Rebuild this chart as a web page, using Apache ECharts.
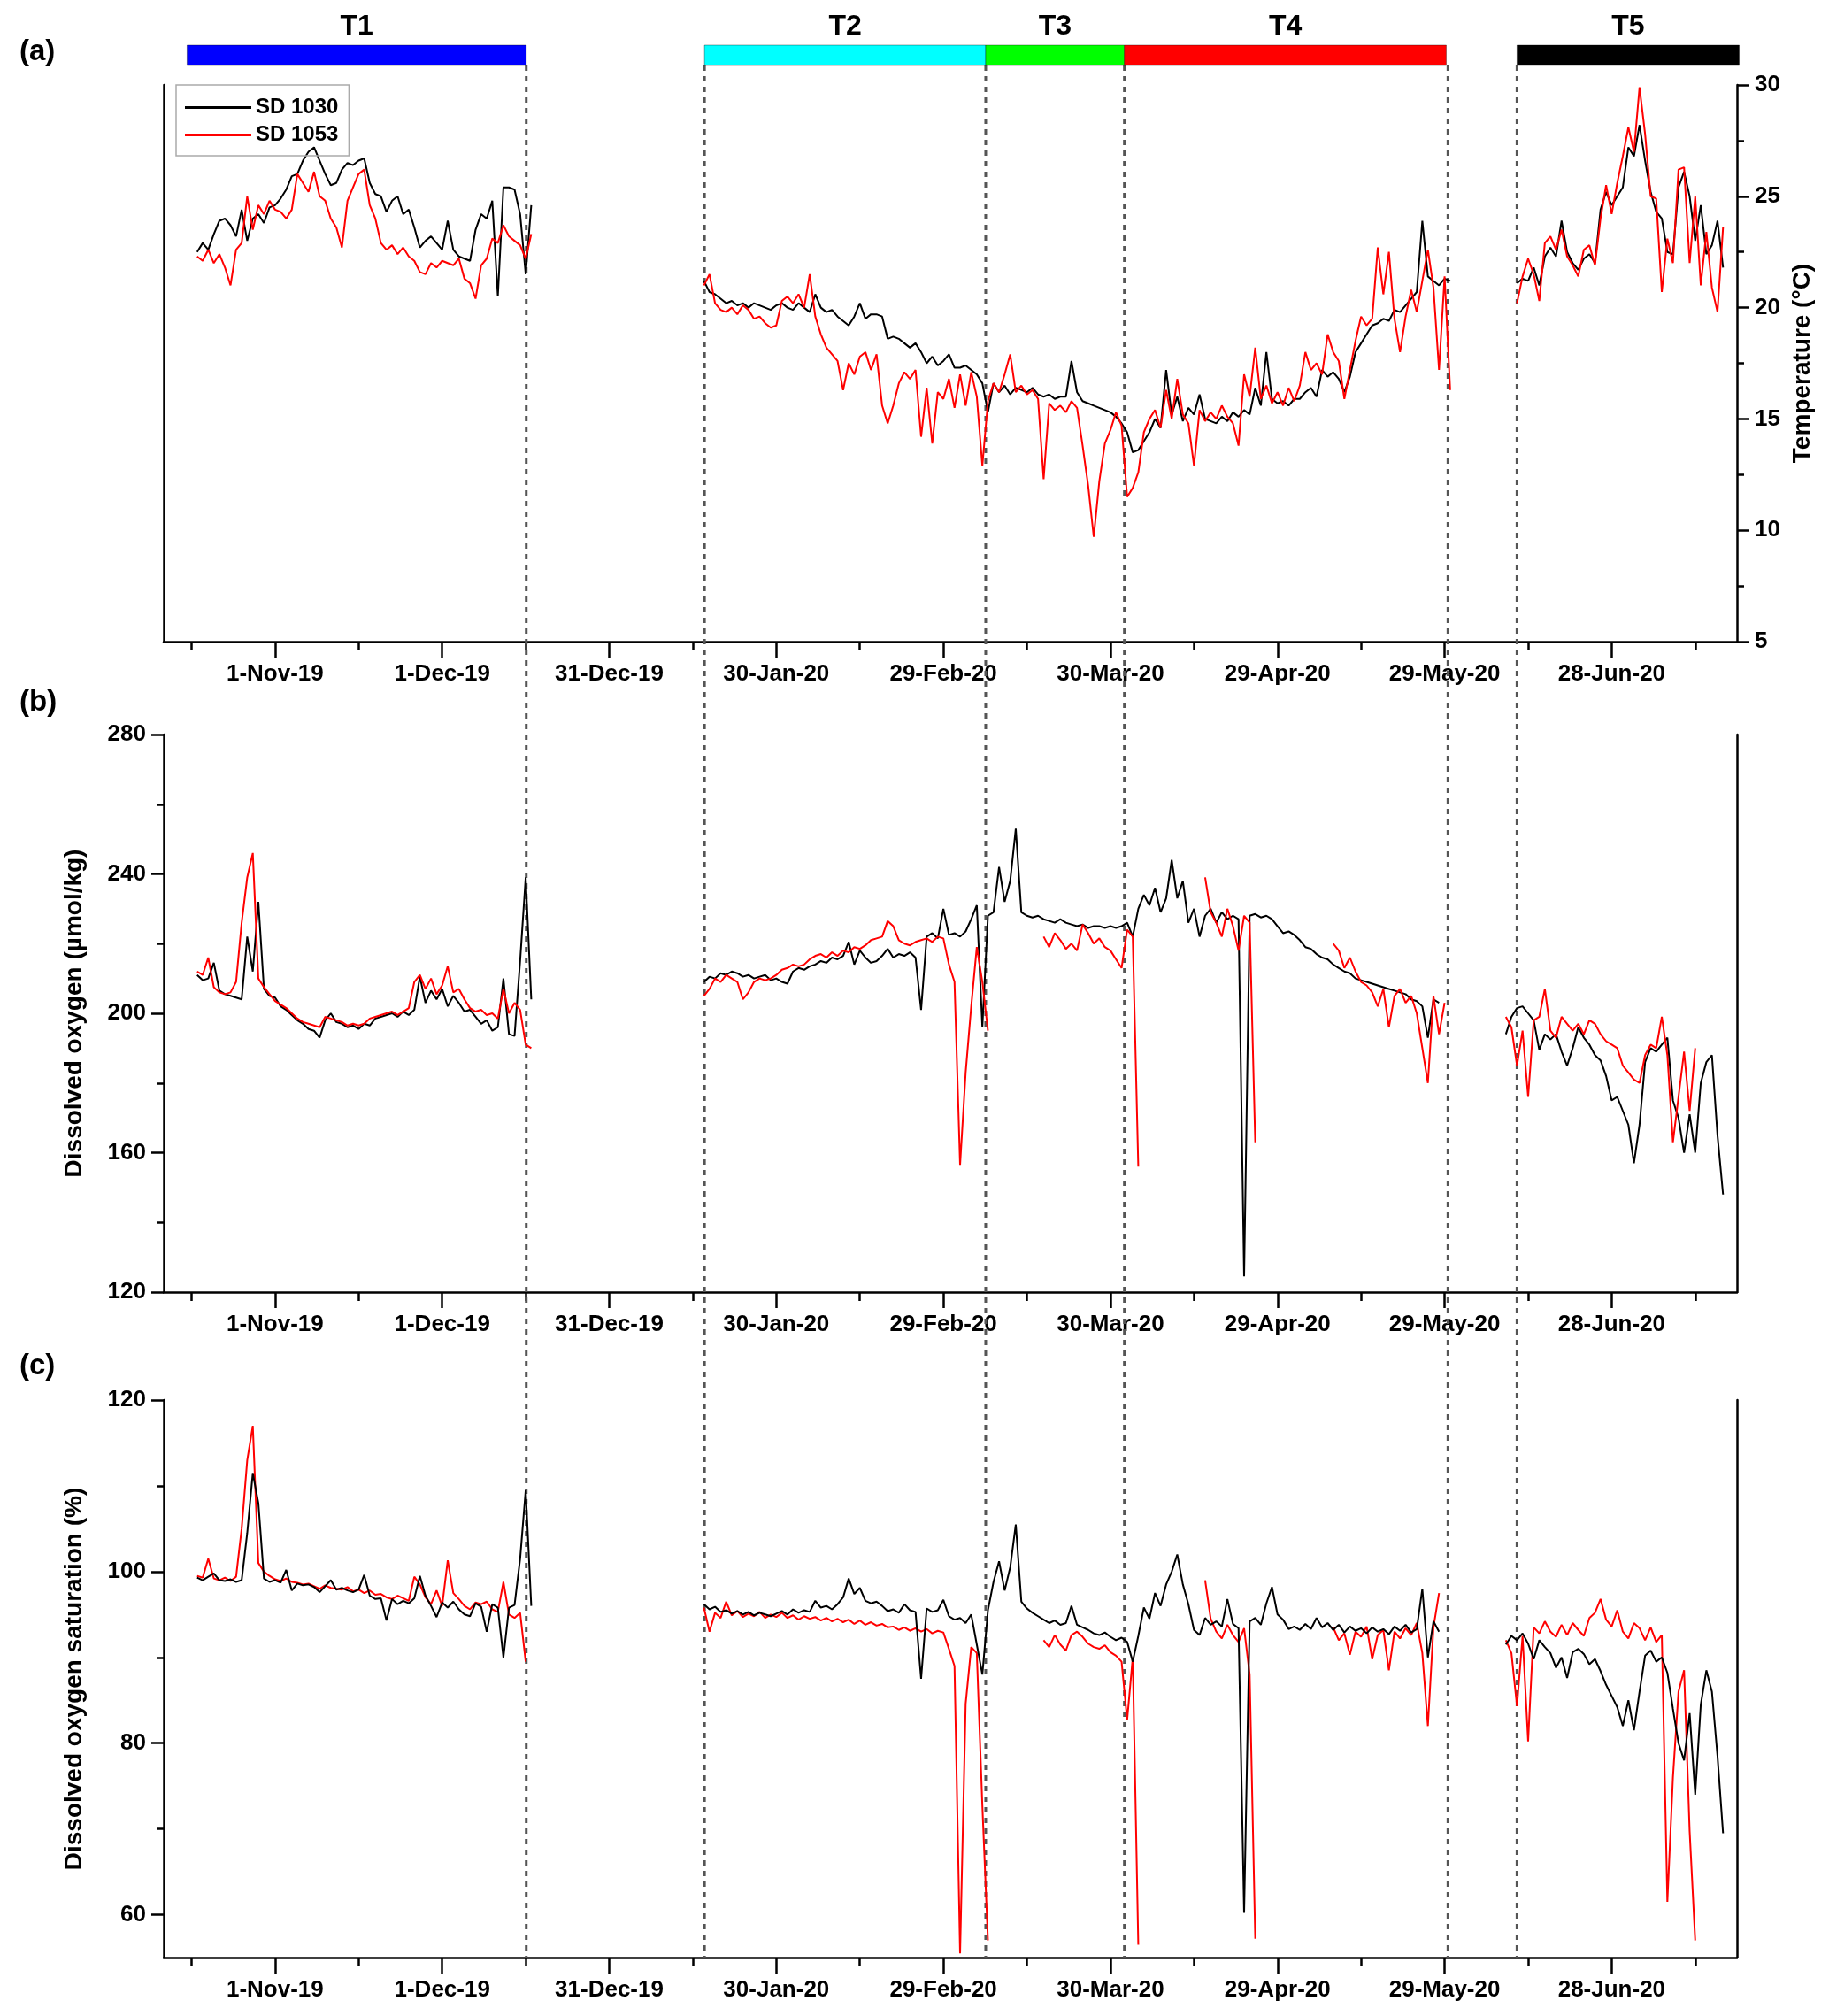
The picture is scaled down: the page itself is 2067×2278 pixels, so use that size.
<!DOCTYPE html>
<html>
<head>
<meta charset="utf-8">
<title>SD 1030 / SD 1053 time series</title>
<script src="https://cdn.jsdelivr.net/npm/echarts@6/dist/echarts.min.js"></script>
<style>
  html, body { margin: 0; padding: 0; background: #fff; }
  #main { width: 2067px; height: 2278px; }
</style>
</head>
<body>
<div id="main"></div>
<script>
// x values are day numbers, day 0 = 1-Oct-2019
var dayMin = 11, dayMax = 293.5;
var majorTickDays = [31, 61, 91, 121, 151, 181, 211, 241, 271];
var majorTickLabels = ['1-Nov-19', '1-Dec-19', '31-Dec-19', '30-Jan-20', '29-Feb-20',
                       '30-Mar-20', '29-Apr-20', '29-May-20', '28-Jun-20'];
var minorTickDays = [16, 46, 76, 106, 136, 166, 196, 226, 256, 286];

// deployment periods (bars on top) and their boundaries (dashed lines)
var periodNames = ['T1', 'T2', 'T3', 'T4', 'T5'];
var periodStart = [15.2, 108.1, 158.6, 183.5, 254.0];
var periodEnd = [76.1, 158.6, 183.5, 241.3, 293.9];
var periodColors = ['#0000ff', '#00ffff', '#00ff00', '#ff0000', '#000000'];
var boundaryDays = [76.1, 108.1, 158.6, 183.5, 241.6, 254.0];

// first day of each data segment
var tempStarts = [17, 108, 254];
var oxyStarts = [17, 108, 252];

// (a) temperature, deg C
var temp1030_s1 = [22.5,22.9,22.6,23.3,23.9,24.0,23.7,23.2,24.4,23.0,24.0,24.2,23.8,24.5,24.6,24.9,25.3,25.9,26.0,26.6,
  27.0,27.2,26.6,26.0,25.5,25.6,26.2,26.5,26.4,26.6,26.7,25.6,25.1,25.0,24.3,24.8,25.0,24.2,24.4,23.6,
  22.7,23.0,23.2,22.9,22.6,23.9,22.6,22.3,22.2,22.1,23.5,24.2,24.0,24.8,20.5,25.4,25.4,25.3,24.2,21.5,24.6];
var temp1053_s1 = [22.3,22.1,22.6,22.0,22.4,21.8,21.0,22.6,22.9,25.0,23.5,24.6,24.2,24.8,24.4,24.3,24.0,24.4,26.0,25.6,
  25.2,26.1,25.0,24.8,24.0,23.6,22.7,24.8,25.4,26.0,26.2,24.6,24.0,22.9,22.6,22.8,22.4,22.7,22.3,22.1,
  21.6,21.5,22.0,21.8,22.1,22.0,21.9,22.2,21.3,21.1,20.4,21.9,22.2,23.1,22.9,23.7,23.2,23.0,22.8,22.2,23.3];
var temp1030_s2 = [21.2,20.7,20.6,20.4,20.2,20.3,20.1,20.2,20.0,20.2,
  20.1,20.0,19.9,20.1,20.2,20.0,19.9,20.2,20.0,19.8,
  20.6,20.0,19.8,19.9,19.6,19.4,19.2,19.6,20.2,19.5,
  19.7,19.7,19.6,18.6,18.7,18.6,18.4,18.2,18.4,18.0,
  17.5,17.8,17.4,17.6,17.9,17.3,17.3,17.4,17.2,17.0,
  16.6,15.3,16.6,16.2,16.5,16.1,16.4,16.3,16.2,16.4,
  16.1,16.0,16.1,15.9,16.0,16.0,17.6,16.2,15.8,15.7,
  15.6,15.5,15.4,15.3,15.1,14.8,14.4,13.5,13.6,14.0,
  14.4,15.0,14.6,17.2,15.2,16.0,14.9,15.5,15.2,16.1,
  15.0,14.9,14.8,15.1,14.9,15.3,15.1,15.4,15.2,16.4,
  15.6,18.0,15.9,15.7,15.8,15.6,15.9,15.9,16.2,16.4,
  16.0,17.2,16.9,17.1,16.8,16.2,16.9,18.0,18.4,18.8,
  19.2,19.3,19.5,19.4,19.9,19.8,20.1,20.4,20.7,23.9,
  21.4,21.2,21.0,21.3,21.2];
var temp1053_s2 = [21.0,21.5,20.2,19.9,19.8,20.0,19.7,20.1,19.9,19.5,
  19.6,19.3,19.1,19.2,20.3,20.5,20.2,20.6,20.0,21.5,
  19.6,18.8,18.2,17.9,17.6,16.3,17.5,17.0,17.8,18.0,
  17.2,17.9,15.6,14.8,15.6,16.6,17.1,16.8,17.2,14.2,
  16.4,13.9,16.2,15.9,16.8,15.5,17.0,15.6,17.1,16.0,
  12.9,15.8,16.6,16.2,17.0,17.9,16.2,16.5,16.1,16.3,
  15.9,12.3,15.7,15.4,15.6,15.3,15.8,15.5,13.8,12.0,
  9.7,12.2,13.9,14.5,15.3,14.7,11.5,11.9,12.6,14.4,
  15.0,15.4,14.6,16.3,15.0,16.8,15.2,14.8,12.9,15.4,
  14.9,15.3,15.0,15.6,15.1,14.8,13.8,17.0,16.0,18.2,
  15.9,16.5,15.7,16.2,15.6,16.4,15.8,16.5,18.0,17.2,
  17.5,17.0,18.8,18.0,17.6,15.9,17.2,18.5,19.6,19.2,
  19.5,22.7,20.6,22.5,19.5,18.0,19.6,20.8,19.8,21.2,
  22.6,20.9,17.2,21.4,16.3];
var temp1030_s3 = [21.1,21.3,21.2,21.8,21.0,22.3,22.7,22.3,23.9,22.5,22.0,21.7,22.2,22.4,22.0,24.4,25.2,24.6,25.0,25.4,
  27.2,26.8,28.2,26.6,25.2,24.3,24.0,22.5,22.4,25.4,26.1,25.0,23.0,24.6,22.4,22.8,23.9,21.8];
var temp1053_s3 = [20.2,21.4,22.2,21.5,20.3,22.9,23.2,22.6,23.5,22.3,21.9,21.4,22.6,22.8,21.9,24.0,25.5,24.2,25.6,26.8,
  28.1,27.0,29.9,27.8,25.0,24.9,20.7,23.1,22.0,26.2,26.3,22.0,25.0,21.0,23.4,20.9,19.8,23.6];

// (b) dissolved oxygen, umol/kg
var do1030_s1 = [211.0,209.5,210.0,214.5,206.5,205.5,205.0,204.5,204.0,222.0,212.0,232.0,207.0,205.0,204.5,202.0,201.0,199.5,198.0,197.0,
  195.5,195.0,193.0,198.0,200.0,197.5,197.0,196.0,196.5,195.5,197.0,196.5,198.5,199.0,199.5,200.0,199.0,200.5,199.5,201.0,
  210.5,203.0,206.5,204.0,207.0,202.0,205.0,203.0,200.5,201.0,199.0,197.0,198.0,195.0,196.0,210.0,194.0,193.5,215.0,239.0,204.0];
var do1053_s1 = [212.0,211.0,216.0,207.5,206.0,205.5,206.0,209.0,226.0,239.0,246.0,210.0,207.5,205.5,203.5,202.5,201.5,200.0,198.5,197.5,
  197.0,196.5,196.0,199.0,198.5,198.0,197.5,196.5,197.0,196.5,197.0,198.5,199.0,199.5,200.0,200.5,199.5,200.5,201.5,209.0,
  211.0,207.0,210.0,205.5,208.0,213.5,206.0,207.0,204.0,201.5,200.5,201.0,199.5,200.0,198.5,207.0,200.0,203.0,201.0,191.0,190.0];
var do1030_s2 = [209,210.5,210,211.5,211,212,211.5,210.5,211,210,
  210.5,211,209.5,210,209,208.5,212,213,212.5,213.5,
  214,215,214.5,216,215.5,216.5,220.5,214,218,216,
  214.5,215,216.5,218.5,216,217,216.5,217.5,216,201,
  222,223,221.5,230,222.5,223,222,223.5,227,231,
  196,228,229,242,232,238,253,229,228,227.5,
  228,227,226.5,226,227,226,225.5,225,225.5,224.5,
  225,225,224.5,225,224.5,225,226,222,230,234,
  231,236,229,233,244,233,238,226,230,222,
  228,230,226,229,227,228,227,124.5,228,228.5,
  227.5,228,227,225,223,223.5,222.5,221,219,218.5,
  217,216,215.5,214,213,212,211.5,210,209.5,209,
  208.5,208,207.5,207,206.5,206,205.5,204,203.5,202,
  193,204,203];
var do1053_s2 = [205,207,210,209,211,210,209,204,206,209,
  210,209.5,210,211,212.5,213,214,213.5,214,215.5,
  216.5,217,216,217.5,216.5,218,217.5,219,218.5,219.5,
  221,221.5,222,226.5,225,221,220,219.5,220.5,221,
  221.5,220.5,222,221.5,214,209,156.5,183,202,219,
  209,195,null,null,null,null,null,null,null,null,
  null,222,219,223,221,218.5,220,218,225.5,223,
  220,221.5,219,218,215.5,213,224,222,156,null,
  null,null,null,null,null,null,null,null,null,null,
  239,229,226,222,230,225,218,228,226,163,
  null,null,null,null,null,null,null,null,null,null,
  null,null,null,220,218,213,216,212,209,208,
  206,202,207,196,205,207,203,205,200,190,
  180,205,194,203];
var do1030_s3 = [194,199,201.5,202,200,198,189.5,194,192.5,194,189,185,190,196,193,191,188,186.5,182,175,
  176,172,168,157,168,186,190,189,191,193,175,170,160,171,160,180,186,188,165,148];
var do1053_s3 = [199,196,185,195,176,198,199,207,195,193,199,197,195,197,194,198,197,194,192,191,
  190,185,183,181,180,188,191,190,199,188,163,176,189,172,190];

// (c) dissolved oxygen saturation, %
var sat1030_s1 = [99.3,99.0,99.4,99.8,99.0,98.9,99.1,98.8,99.0,104.5,111.5,108.0,99.2,98.8,99.0,98.7,100.2,97.8,98.6,98.4,
  98.5,98.2,97.6,98.3,99.0,97.9,98.1,97.8,97.6,97.9,99.6,97.2,96.8,96.9,94.3,96.8,96.2,96.6,96.3,96.9,
  99.5,97.2,96.0,94.7,96.4,95.8,96.5,95.6,95.0,94.8,96.3,95.9,93.0,96.2,95.8,90.0,95.8,96.1,101.5,109.5,96.0];
var sat1053_s1 = [99.5,99.3,101.5,99.2,99.0,99.3,98.9,99.4,105.0,113.0,117.0,101.0,100.0,99.5,99.1,98.9,99.2,98.8,98.7,98.5,
  98.6,98.3,98.0,98.4,98.1,98.0,97.9,98.2,97.7,97.9,97.5,97.8,97.3,97.4,97.0,96.8,97.2,96.9,96.6,99.4,
  98.5,97.0,96.2,97.8,96.0,101.3,97.5,96.8,96.0,95.6,96.4,96.2,96.5,95.6,95.3,98.8,95.0,94.6,95.2,89.5];
var sat1030_s2 = [96.2,95.6,95.9,95.3,95.5,95.1,95.4,95.0,95.3,94.9,
  95.2,95.0,94.8,95.1,95.4,95.0,95.6,95.2,95.5,95.3,
  96.6,95.8,96.0,95.6,96.2,97.0,99.2,97.4,98.1,96.6,
  96.3,96.5,96.0,95.4,95.6,95.2,96.2,95.5,95.3,87.5,
  95.7,95.3,95.5,96.7,94.8,94.4,94.6,94.0,95.0,91.5,
  88.0,95.5,98.8,101.2,97.8,100.5,105.5,96.5,95.7,95.2,
  94.8,94.4,94.0,94.3,93.8,94.0,96.0,93.8,93.5,93.2,
  92.8,92.6,92.9,92.4,92.0,92.3,91.8,89.5,92.5,95.8,
  94.5,97.5,96.0,98.5,100.0,102.0,98.5,96.2,93.2,92.6,
  94.6,93.8,94.2,93.6,96.8,93.9,93.4,60.2,94.2,94.6,
  93.8,96.3,98.2,95.0,94.4,93.3,93.6,93.2,93.9,93.3,
  94.6,93.5,94.0,93.2,93.8,92.9,93.6,93.1,93.4,92.8,
  93.5,93.0,93.3,92.7,93.6,93.1,93.8,92.9,93.3,98.0,
  90.0,94.2,93.0];
var sat1053_s2 = [95.8,93.0,95.2,94.6,96.5,94.9,95.4,94.7,95.1,94.8,
  95.3,94.6,95.0,94.7,95.2,94.6,94.9,94.4,94.8,94.5,
  94.7,94.3,94.6,94.2,94.5,94.1,94.4,93.9,94.3,93.8,
  94.1,93.7,93.9,93.5,93.6,93.2,93.5,93.1,93.4,93.0,
  93.3,92.8,93.1,92.9,91.0,89.0,55.5,84.6,91.2,90.5,
  72.7,57.0,null,null,null,null,null,null,null,null,
  null,92.0,91.2,92.6,91.5,90.8,92.6,93.0,92.4,91.6,
  91.2,91.0,91.4,90.6,90.2,89.5,82.7,90.0,56.5,null,
  null,null,null,null,null,null,null,null,null,null,
  99.0,94.5,93.0,92.2,93.8,92.6,91.8,93.4,88.0,57.2,
  null,null,null,null,null,null,null,null,null,null,
  null,null,null,93.5,92.0,92.8,90.3,93.0,92.4,93.6,
  89.8,92.6,93.2,88.5,93.0,92.2,93.4,92.6,94.0,90.5,
  82.0,93.5,97.5];
var sat1030_s3 = [91.5,92.5,92.0,92.8,91.6,89.8,92.0,91.2,90.5,88.8,90.0,87.6,90.6,91.0,90.4,89.2,89.8,88.4,86.8,85.5,
  84.2,82.0,85.0,81.5,86.0,90.2,90.8,89.5,90.0,88.2,84.0,80.0,78.0,83.5,74.0,84.5,88.5,86.0,78.5,69.5];
var sat1053_s3 = [92.0,90.5,84.3,92.5,80.2,93.5,92.8,94.2,93.0,92.4,93.8,92.6,94.0,93.2,92.5,94.6,95.2,96.8,94.4,93.6,
  95.5,93.0,92.2,94.0,93.4,92.0,93.5,91.8,92.6,61.5,76.0,86.0,88.5,69.7,57.0];

// glue daily segments together, with a gap between them
function joinSegments(starts, arrays) {
  var out = [];
  arrays.forEach(function (arr, k) {
    if (k > 0) out.push([starts[k] - 0.5, null]);
    arr.forEach(function (v, i) { out.push([starts[k] + i, v]); });
  });
  return out;
}

var font = "'Liberation Sans', Arial, sans-serif";
var tickFont = { fontFamily: font, fontWeight: 'bold', fontSize: 26, color: '#000' };
var nameFont = { fontFamily: font, fontWeight: 'bold', fontSize: 28, color: '#000' };
var axisLineStyle = { color: '#000', width: 2.5 };

function majorX(grid) {
  return {
    type: 'value', gridIndex: grid, position: 'bottom', min: dayMin, max: dayMax,
    axisLine: { show: true, onZero: false, lineStyle: axisLineStyle },
    axisTick: { show: true, customValues: majorTickDays, length: 18, lineStyle: axisLineStyle },
    axisLabel: Object.assign({
      show: true, customValues: majorTickDays, margin: 24,
      formatter: function (v) { return majorTickLabels[majorTickDays.indexOf(v)]; }
    }, tickFont),
    splitLine: { show: false }
  };
}
function minorX(grid) {
  return {
    type: 'value', gridIndex: grid, position: 'bottom', min: dayMin, max: dayMax,
    axisLine: { show: false, onZero: false },
    axisTick: { show: true, customValues: minorTickDays, length: 10, lineStyle: axisLineStyle },
    axisLabel: { show: false }, splitLine: { show: false }
  };
}
function hiddenX(grid) {
  return { type: 'value', gridIndex: grid, min: dayMin, max: dayMax, show: false };
}
function plainY(grid, pos, min, max) {
  return {
    type: 'value', gridIndex: grid, position: pos, min: min, max: max,
    axisLine: { show: true, onZero: false, lineStyle: axisLineStyle },
    axisTick: { show: false }, axisLabel: { show: false }, splitLine: { show: false }
  };
}
function valueY(grid, pos, min, max, interval, name, gap) {
  return {
    type: 'value', gridIndex: grid, position: pos, min: min, max: max, interval: interval,
    axisLine: { show: true, onZero: false, lineStyle: axisLineStyle },
    axisTick: { show: true, length: 14, lineStyle: axisLineStyle },
    minorTick: { show: true, splitNumber: 2, length: 8, lineStyle: axisLineStyle },
    axisLabel: Object.assign({ margin: 20 }, tickFont),
    splitLine: { show: false }, minorSplitLine: { show: false },
    name: name, nameLocation: 'middle', nameRotate: 90, nameGap: gap, nameTextStyle: nameFont
  };
}

function lineSeries(name, color, xi, yi, data) {
  return {
    name: name, type: 'line', xAxisIndex: xi, yAxisIndex: yi, data: data,
    symbol: 'none', showSymbol: false, z: 3,
    lineStyle: { color: color, width: 2 }, itemStyle: { color: color }
  };
}

var chart = echarts.init(document.getElementById('main'));
var option = {
  animation: false,
  backgroundColor: '#fff',
  grid: [
    { left: 185, right: 104, top: 96, height: 629 },
    { left: 185, right: 104, top: 830, height: 630 },
    { left: 185, right: 104, top: 1582, height: 630 },
    { left: 185, right: 104, top: 51, height: 23 },
    { left: 185, right: 104, top: 74, height: 2138 }
  ],
  xAxis: [majorX(0), minorX(0), majorX(1), minorX(1), majorX(2), minorX(2), hiddenX(3), hiddenX(4)],
  yAxis: [
    valueY(0, 'right', 5, 30, 5, 'Temperature (°C)', 60),
    plainY(0, 'left', 5, 30),
    valueY(1, 'left', 120, 280, 40, 'Dissolved oxygen (µmol/kg)', 87),
    plainY(1, 'right', 120, 280),
    {
      type: 'value', gridIndex: 2, position: 'left', min: 55, max: 120,
      axisLine: { show: true, onZero: false, lineStyle: axisLineStyle },
      axisTick: { show: true, customValues: [60, 80, 100, 120], length: 14, lineStyle: axisLineStyle },
      axisLabel: Object.assign({ customValues: [60, 80, 100, 120], margin: 20 }, tickFont),
      splitLine: { show: false },
      name: 'Dissolved oxygen saturation (%)', nameLocation: 'middle', nameRotate: 90,
      nameGap: 87, nameTextStyle: nameFont
    },
    {
      type: 'value', gridIndex: 2, position: 'left', min: 55, max: 120,
      axisLine: { show: false, onZero: false },
      axisTick: { show: true, customValues: [70, 90, 110], length: 8, lineStyle: axisLineStyle },
      axisLabel: { show: false }, splitLine: { show: false }
    },
    plainY(2, 'right', 55, 120),
    { type: 'value', gridIndex: 3, min: 0, max: 1, show: false },
    { type: 'value', gridIndex: 4, min: 0, max: 1, show: false }
  ],
  legend: {
    data: ['SD 1030', 'SD 1053'],
    orient: 'vertical', left: 199, top: 96,
    icon: 'rect', itemWidth: 75, itemHeight: 3, itemGap: 2,
    padding: [11, 12, 9, 10],
    borderColor: '#aaa', borderWidth: 1.5, backgroundColor: 'transparent',
    textStyle: { fontFamily: font, fontWeight: 'bold', fontSize: 24, color: '#000', lineHeight: 29 }
  },
  graphic: [
    { type: 'text', left: 22, top: 42, style: { text: '(a)', font: 'bold 33px ' + font, fill: '#000' } },
    { type: 'text', left: 22, top: 777, style: { text: '(b)', font: 'bold 33px ' + font, fill: '#000' } },
    { type: 'text', left: 22, top: 1527, style: { text: '(c)', font: 'bold 33px ' + font, fill: '#000' } }
  ],
  series: [
    {
      type: 'custom', xAxisIndex: 7, yAxisIndex: 8, z: 1, silent: true,
      data: boundaryDays.map(function (d) { return [d]; }),
      encode: { x: 0 },
      renderItem: function (params, api) {
        var p0 = api.coord([api.value(0), 1]);
        var p1 = api.coord([api.value(0), 0]);
        return {
          type: 'line',
          shape: { x1: p0[0], y1: p0[1], x2: p1[0], y2: p1[1] },
          style: { stroke: '#555', lineWidth: 3, lineDash: [6, 6] }
        };
      }
    },
    {
      type: 'custom', xAxisIndex: 6, yAxisIndex: 7, z: 2, silent: true, clip: false,
      data: periodNames.map(function (n, i) { return [periodStart[i], periodEnd[i], i]; }),
      encode: { x: [0, 1] },
      renderItem: function (params, api) {
        var i = api.value(2);
        var a = api.coord([api.value(0), 1]);
        var b = api.coord([api.value(1), 0]);
        return {
          type: 'group',
          children: [
            {
              type: 'rect',
              shape: { x: a[0], y: a[1], width: b[0] - a[0], height: b[1] - a[1] },
              style: { fill: periodColors[i], stroke: 'rgba(0,0,0,0.35)', lineWidth: 1 }
            },
            {
              type: 'text',
              style: {
                x: (a[0] + b[0]) / 2, y: a[1] - 21, text: periodNames[i],
                font: 'bold 32px ' + font, fill: '#000', align: 'center', verticalAlign: 'middle'
              }
            }
          ]
        };
      }
    },
    lineSeries('SD 1030', '#000000', 0, 0, joinSegments(tempStarts, [temp1030_s1, temp1030_s2, temp1030_s3])),
    lineSeries('SD 1053', '#ff0000', 0, 0, joinSegments(tempStarts, [temp1053_s1, temp1053_s2, temp1053_s3])),
    lineSeries('SD 1030', '#000000', 2, 2, joinSegments(oxyStarts, [do1030_s1, do1030_s2, do1030_s3])),
    lineSeries('SD 1053', '#ff0000', 2, 2, joinSegments(oxyStarts, [do1053_s1, do1053_s2, do1053_s3])),
    lineSeries('SD 1053', '#ff0000', 4, 4, joinSegments(oxyStarts, [sat1053_s1, sat1053_s2, sat1053_s3])),
    lineSeries('SD 1030', '#000000', 4, 4, joinSegments(oxyStarts, [sat1030_s1, sat1030_s2, sat1030_s3]))
  ]
};
chart.setOption(option);
</script>
</body>
</html>
